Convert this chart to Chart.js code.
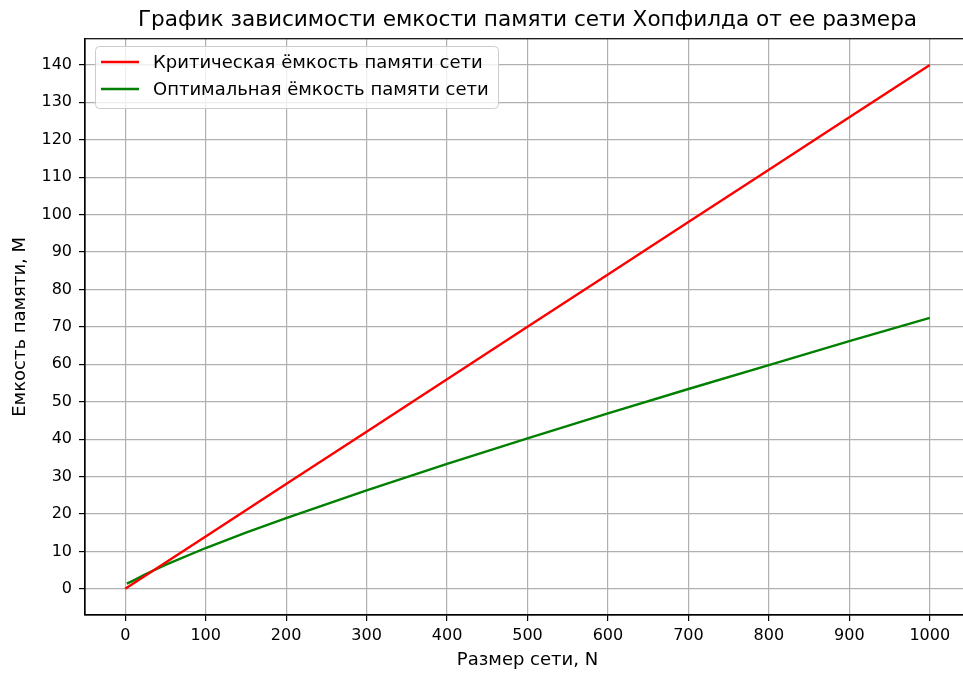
<!DOCTYPE html>
<html>
<head>
<meta charset="utf-8">
<script src="https://cdn.jsdelivr.net/npm/chart.js@4/dist/chart.umd.min.js"></script>
<style>
  html, body { margin: 0; padding: 0; background: #fff; overflow: hidden; }
  #wrap { width: 963px; height: 675px; overflow: hidden; }
  canvas { display: block; }
</style>
</head>
<body>
<div id="wrap"><canvas id="c" width="970" height="675"></canvas></div>
<script>
// Network size N (x) and memory capacity M (y)
const sizesCritical = [0, 100, 200, 300, 400, 500, 600, 700, 800, 900, 1000];
const capacityCritical = [0, 14, 28, 42, 56, 70, 84, 98, 112, 126, 140];

const sizesOptimal = [2, 10, 25, 50, 100, 150, 200, 300, 400, 500, 600, 700, 800, 900, 1000];
const capacityOptimal = [1.4, 2.2, 3.9, 6.4, 10.9, 15.0, 18.9, 26.3, 33.4, 40.2, 46.9, 53.4, 59.8, 66.2, 72.4];

const xTicks = [0, 100, 200, 300, 400, 500, 600, 700, 800, 900, 1000];
const yTicks = [0, 10, 20, 30, 40, 50, 60, 70, 80, 90, 100, 110, 120, 130, 140];

const seriesLabels = ['Критическая ёмкость памяти сети', 'Оптимальная ёмкость памяти сети'];
const titleText = 'График зависимости емкости памяти сети Хопфилда от ее размера';
const xLabel = 'Размер сети, N';
const yLabel = 'Емкость памяти, M';

const FONT = 'DejaVu Sans';

function toPoints(xs, ys) {
  return xs.map((x, i) => ({ x: x, y: ys[i] }));
}

// Axes frame (spines)
const framePlugin = {
  id: 'frame',
  afterDatasetsDraw(chart) {
    const { ctx, chartArea: a } = chart;
    ctx.save();
    ctx.strokeStyle = '#000';
    ctx.lineWidth = 1.2;
    ctx.strokeRect(a.left, a.top, a.right - a.left, a.bottom - a.top);
    ctx.restore();
  }
};

// Legend box in the upper-left corner of the plot
const boxLegend = {
  id: 'boxLegend',
  afterDatasetsDraw(chart) {
    const { ctx } = chart;
    const x = 95, y = 46, w = 403, h = 62;
    ctx.save();
    ctx.beginPath();
    ctx.roundRect(x + 0.5, y + 0.5, w, h, 4);
    ctx.fillStyle = 'rgba(255,255,255,0.8)';
    ctx.fill();
    ctx.strokeStyle = '#cccccc';
    ctx.lineWidth = 1;
    ctx.stroke();
    ctx.font = '18px "' + FONT + '"';
    ctx.textBaseline = 'middle';
    ctx.textAlign = 'left';
    chart.data.datasets.forEach((ds, i) => {
      const ly = 62 + i * 27;
      ctx.beginPath();
      ctx.moveTo(101, ly);
      ctx.lineTo(139, ly);
      ctx.strokeStyle = ds.borderColor;
      ctx.lineWidth = 2.4;
      ctx.stroke();
      ctx.fillStyle = '#000';
      ctx.fillText(ds.label, 153, ly + 1);
    });
    ctx.restore();
  }
};

const plainNumber = v => String(v);

new Chart(document.getElementById('c'), {
  type: 'line',
  data: {
    datasets: [
      {
        label: seriesLabels[0],
        data: toPoints(sizesCritical, capacityCritical),
        borderColor: '#ff0000',
        backgroundColor: '#ff0000',
        borderWidth: 2.4,
        pointRadius: 0,
        tension: 0,
        fill: false
      },
      {
        label: seriesLabels[1],
        data: toPoints(sizesOptimal, capacityOptimal),
        borderColor: '#008000',
        backgroundColor: '#008000',
        borderWidth: 2.4,
        pointRadius: 0,
        tension: 0,
        fill: false
      }
    ]
  },
  options: {
    responsive: false,
    animation: false,
    devicePixelRatio: 1,
    layout: { padding: 0 },
    plugins: {
      legend: { display: false },
      tooltip: { enabled: false },
      title: {
        display: true,
        fullSize: false,
        text: titleText,
        color: '#000',
        font: { family: FONT, size: 21.6, weight: 'normal' },
        padding: { top: 7, bottom: 5.8 }
      }
    },
    scales: {
      x: {
        type: 'linear',
        position: 'bottom',
        min: -50,
        max: 1050,
        afterBuildTicks(s) { s.ticks = xTicks.map(v => ({ value: v })); },
        afterFit(s) { s.height = 60; },
        ticks: {
          color: '#000',
          font: { family: FONT, size: 16 },
          padding: 5,
          maxRotation: 0,
          autoSkip: false,
          callback: plainNumber
        },
        grid: {
          color: '#b0b0b0',
          lineWidth: 1.2,
          tickLength: 6,
          tickColor: '#000',
          tickWidth: 1.2
        },
        border: { display: true, color: '#000', width: 1.2 },
        title: {
          display: true,
          text: xLabel,
          color: '#000',
          font: { family: FONT, size: 18 },
          padding: { top: 0, bottom: 4.2 }
        }
      },
      y: {
        type: 'linear',
        position: 'left',
        min: -7,
        max: 147,
        afterBuildTicks(s) { s.ticks = yTicks.map(v => ({ value: v })); },
        afterFit(s) { s.width = 85; },
        ticks: {
          color: '#000',
          font: { family: FONT, size: 16 },
          padding: 7,
          autoSkip: false,
          callback: plainNumber
        },
        grid: {
          color: '#b0b0b0',
          lineWidth: 1.2,
          tickLength: 6,
          tickColor: '#000',
          tickWidth: 1.2
        },
        border: { display: true, color: '#000', width: 1.2 },
        title: {
          display: true,
          text: yLabel,
          color: '#000',
          font: { family: FONT, size: 18 },
          padding: { top: 10, bottom: 0 }
        }
      }
    }
  },
  plugins: [framePlugin, boxLegend]
});
</script>
</body>
</html>
